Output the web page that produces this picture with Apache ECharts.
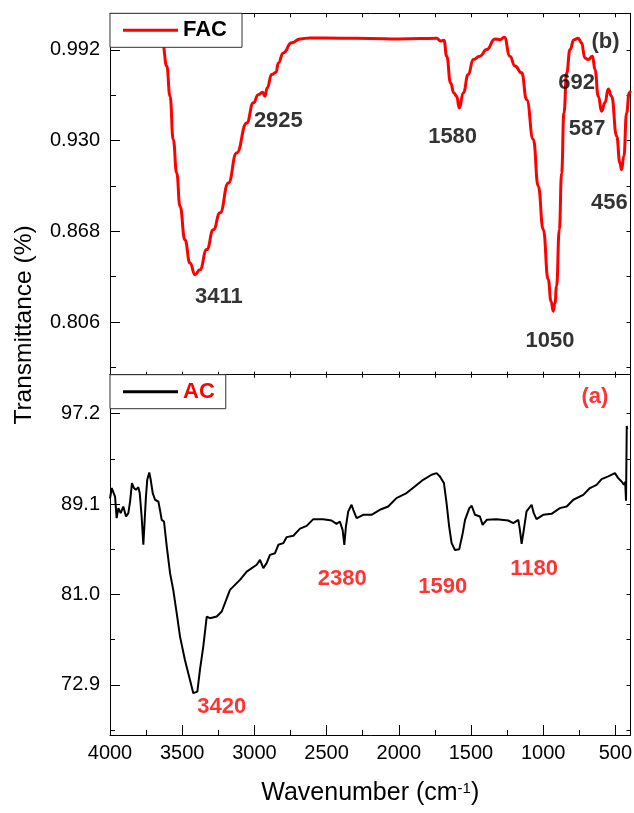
<!DOCTYPE html>
<html>
<head>
<meta charset="utf-8">
<title>FTIR spectra of AC and FAC</title>
<script src="https://cdn.jsdelivr.net/npm/echarts@6/dist/echarts.min.js"></script>
<style>
  html, body { margin: 0; padding: 0; background: #fff; }
  #chart { width: 634px; height: 813px; }
</style>
</head>
<body>
<div id="chart"></div>
<script>
// ---- FAC spectrum (panel b): wavenumber (cm-1) and transmittance ----
const facWavenumber = [4000, 3900, 3800, 3700, 3660, 3635, 3607, 3584, 3562, 3538, 3515, 3481, 3446, 3411, 3377, 3330, 3284, 3238, 3180, 3123, 3053, 3007, 2973, 2943, 2927, 2911, 2881, 2850, 2834, 2800, 2742, 2684, 2615, 2400, 2200, 2000, 1850, 1738, 1710, 1687, 1668, 1641, 1618, 1599, 1581, 1553, 1519, 1484, 1438, 1391, 1334, 1299, 1269, 1230, 1195, 1149, 1114, 1068, 1034, 999, 965, 945, 930, 918, 907, 888, 872, 856, 837, 814, 787, 757, 734, 711, 688, 658, 641, 618, 595, 572, 549, 526, 491, 468, 457, 441, 422, 404, 395];
const facTransmittance = [1.002, 1.003, 1.002, 1.001, 0.999, 0.9956, 0.9809, 0.9603, 0.9307, 0.9079, 0.8851, 0.8622, 0.8463, 0.8383, 0.8418, 0.8555, 0.8691, 0.8806, 0.9011, 0.9216, 0.9421, 0.9558, 0.9614, 0.9631, 0.9603, 0.9660, 0.9751, 0.9767, 0.9831, 0.9899, 0.9968, 0.9995, 1.0002, 1.0000, 0.9998, 0.9995, 0.9997, 1.0000, 0.9980, 0.9986, 0.9877, 0.9694, 0.9626, 0.9603, 0.9523, 0.9626, 0.9751, 0.9854, 0.9877, 0.9922, 0.9995, 0.9990, 1.0007, 0.9877, 0.9809, 0.9763, 0.9580, 0.9307, 0.8988, 0.8691, 0.8350, 0.8200, 0.8134, 0.8190, 0.8305, 0.8691, 0.9079, 0.9489, 0.9763, 0.9922, 0.9990, 1.0000, 0.9968, 0.9865, 0.9854, 0.9877, 0.9785, 0.9603, 0.9501, 0.9558, 0.9653, 0.9603, 0.9330, 0.9147, 0.9101, 0.9193, 0.9489, 0.9626, 0.9640];

// ---- AC spectrum (panel a): wavenumber (cm-1) and transmittance (%) ----
const acWavenumber = [4000, 3988, 3977, 3965, 3954, 3942, 3926, 3908, 3889, 3873, 3861, 3848, 3834, 3820, 3804, 3794, 3781, 3769, 3758, 3751, 3742, 3728, 3718, 3704, 3688, 3665, 3654, 3642, 3626, 3607, 3584, 3562, 3538, 3515, 3481, 3446, 3423, 3395, 3377, 3354, 3330, 3307, 3261, 3226, 3169, 3100, 3053, 2984, 2961, 2938, 2915, 2892, 2857, 2834, 2800, 2776, 2730, 2684, 2638, 2592, 2523, 2466, 2431, 2408, 2389, 2377, 2366, 2350, 2327, 2315, 2292, 2246, 2189, 2131, 2073, 2016, 1946, 1889, 1831, 1773, 1738, 1715, 1687, 1669, 1651, 1634, 1611, 1581, 1557, 1541, 1511, 1495, 1472, 1438, 1419, 1391, 1322, 1242, 1207, 1172, 1161, 1149, 1134, 1115, 1080, 1065, 1046, 1000, 942, 884, 837, 791, 722, 676, 630, 595, 549, 503, 480, 457, 441, 432, 426, 421, 417];
const acTransmittance = [89.6, 90.54, 90.68, 89.78, 87.84, 88.74, 88.29, 88.88, 87.99, 88.29, 89.33, 90.98, 90.54, 90.38, 90.62, 90.09, 87.99, 85.45, 85.45, 89.78, 91.28, 91.93, 91.28, 90.09, 89.49, 89.33, 88.59, 87.69, 87.54, 85.30, 82.91, 81.41, 79.32, 77.22, 75.13, 73.34, 72.15, 72.29, 74.24, 76.33, 79.02, 78.87, 79.02, 79.47, 81.41, 82.31, 83.05, 83.66, 84.10, 83.36, 83.81, 84.55, 84.70, 85.45, 85.60, 86.14, 86.26, 86.90, 87.15, 87.75, 87.75, 87.63, 87.33, 87.54, 86.79, 85.45, 87.09, 88.44, 89.04, 88.59, 87.84, 88.14, 88.14, 88.59, 88.88, 89.64, 90.09, 90.68, 91.28, 91.73, 91.88, 91.58, 90.98, 89.19, 87.09, 85.60, 84.99, 85.06, 86.50, 87.69, 88.74, 88.95, 88.14, 87.99, 87.24, 87.69, 87.75, 87.63, 87.40, 87.69, 86.79, 85.54, 86.79, 88.44, 89.04, 88.29, 87.75, 88.14, 88.23, 88.74, 88.88, 89.49, 89.93, 90.54, 90.83, 91.34, 91.58, 91.88, 91.43, 91.13, 90.83, 91.10, 89.40, 96.10, 95.80];

// ---- peak annotations: [text, wavenumber anchor, transmittance anchor] ----
const facPeakLabels = [
  ['3411', 3246, 0.8231],
  ['2925', 2834, 0.9432],
  ['1580', 1627, 0.9326],
  ['1050', 953, 0.7933],
  ['692', 768, 0.9694],
  ['587', 696, 0.9378],
  ['456', 541, 0.8876],
  ['(b)', 568, 0.9977]
];
const acPeakLabels = [
  ['3420', 3226, 70.90],
  ['2380', 2392, 82.35],
  ['1590', 1696, 81.66],
  ['1180', 1062, 83.32],
  ['(a)', 641, 98.75]
];

// ---- axis ticks ----
const wavenumberLabels = [4000, 3500, 3000, 2500, 2000, 1500, 1000, 500];
const wavenumberAllTicks = [3750, 3500, 3250, 3000, 2750, 2500, 2250, 2000, 1750, 1500, 1250, 1000, 750, 500];
const facTickLabels = [0.806, 0.868, 0.930, 0.992];
const facAllTicks = [0.775, 0.806, 0.837, 0.868, 0.899, 0.930, 0.961, 0.992];
const acTickLabels = [72.9, 81.0, 89.1, 97.2];
const acAllTicks = [68.85, 72.9, 76.95, 81.0, 85.05, 89.1, 93.15, 97.2];

const X_MIN = 395, X_MAX = 4000;
const FAC_MIN = 0.770, FAC_MAX = 1.017;
const AC_MIN = 68.4, AC_MAX = 100.7;

const FONT = '"Liberation Sans", Arial, Helvetica, sans-serif';
const zip = (xs, ys) => xs.map((x, i) => [x, ys[i]]);

const chart = echarts.init(document.getElementById('chart'), null, { renderer: 'canvas' });

const GRID_LEFT = 110, GRID_RIGHT = 3.5;
const grids = [
  { left: GRID_LEFT, right: GRID_RIGHT, top: 13.3, height: 361.4, containLabel: false, outerBoundsMode: 'none' },
  { left: GRID_LEFT, right: GRID_RIGHT, top: 374.7, height: 360.3, containLabel: false, outerBoundsMode: 'none' }
];

function xAxis(gridIndex, position, ticks, tickLen, opts) {
  return Object.assign({
    type: 'value', gridIndex, position, min: X_MIN, max: X_MAX, inverse: true,
    splitLine: { show: false },
    axisLine: { show: true, onZero: false, lineStyle: { color: '#000', width: 1 } },
    axisTick: { show: true, inside: true, length: tickLen, customValues: ticks, lineStyle: { color: '#000', width: 1 } },
    axisLabel: { show: false }
  }, opts || {});
}
function yAxis(gridIndex, position, min, max, ticks, tickLen, opts) {
  return Object.assign({
    type: 'value', gridIndex, position, min, max,
    splitLine: { show: false },
    axisLine: { show: true, onZero: false, lineStyle: { color: '#000', width: 1 } },
    axisTick: { show: true, inside: true, length: tickLen, customValues: ticks, lineStyle: { color: '#000', width: 1 } },
    axisLabel: { show: false }
  }, opts || {});
}

const xAxes = [
  // panel b
  xAxis(0, 'bottom', wavenumberAllTicks, 3),
  xAxis(0, 'top', wavenumberAllTicks, 4),
  // panel a
  xAxis(1, 'bottom', wavenumberLabels, 10, {
    axisLabel: { show: true, customValues: wavenumberLabels, margin: 8, fontSize: 20, fontFamily: FONT, color: '#000',
      formatter: v => String(v) },
    name: 'Wavenumber (cm{sup|-1})',
    nameLocation: 'middle',
    nameGap: 46,
    nameTextStyle: {
      fontSize: 25, fontFamily: FONT, color: '#000',
      rich: { sup: { fontSize: 15, fontFamily: FONT, color: '#000', verticalAlign: 'top', lineHeight: 15 } }
    }
  }),
  xAxis(1, 'bottom', wavenumberAllTicks, 5, { axisLine: { show: false } }),
  xAxis(1, 'top', wavenumberAllTicks, 3)
];

const yAxes = [
  // panel b
  yAxis(0, 'left', FAC_MIN, FAC_MAX, facTickLabels, 10, {
    axisLabel: { show: true, customValues: facTickLabels, margin: 10, fontSize: 20, fontFamily: FONT, color: '#000',
      formatter: v => Number(v).toFixed(3) }
  }),
  yAxis(0, 'left', FAC_MIN, FAC_MAX, facAllTicks, 6, { axisLine: { show: false } }),
  yAxis(0, 'right', FAC_MIN, FAC_MAX, facAllTicks, 4),
  // panel a
  yAxis(1, 'left', AC_MIN, AC_MAX, acTickLabels, 10, {
    axisLabel: { show: true, customValues: acTickLabels, margin: 10, fontSize: 20, fontFamily: FONT, color: '#000',
      formatter: v => Number(v).toFixed(1) }
  }),
  yAxis(1, 'left', AC_MIN, AC_MAX, acAllTicks, 5, { axisLine: { show: false } }),
  yAxis(1, 'right', AC_MIN, AC_MAX, acAllTicks, 4)
];

function peakSeries(labels, xIdx, yIdx, color) {
  return {
    type: 'scatter', xAxisIndex: xIdx, yAxisIndex: yIdx, silent: true,
    symbolSize: 0, clip: false, z: 5,
    data: labels.map(([text, x, y]) => ({ name: text, value: [x, y] })),
    label: { show: true, position: 'inside', formatter: '{b}', fontSize: 22, fontWeight: 'bold', fontFamily: FONT, color }
  };
}

function legendBox(name, top, textColor, padRight) {
  return {
    data: [name], left: GRID_LEFT, top, orient: 'horizontal', selectedMode: false,
    backgroundColor: '#fff', borderColor: '#333', borderWidth: 1, borderRadius: 0,
    padding: [6, padRight, 6, 13],
    icon: 'rect', itemWidth: 55, itemHeight: 3,
    textStyle: { fontSize: 22, fontWeight: 'bold', fontFamily: FONT, color: textColor }
  };
}

const option = {
  animation: false,
  backgroundColor: '#fff',
  grid: grids,
  xAxis: xAxes,
  yAxis: yAxes,
  legend: [
    legendBox('FAC', 13.3, '#000', 15),
    legendBox('AC', 374.7, '#ff0000', 11)
  ],
  graphic: [{
    type: 'text', x: 24, y: 325, rotation: Math.PI / 2,
    style: { text: 'Transmittance (%)', fontSize: 24.5, fontFamily: FONT, fill: '#000', align: 'center', verticalAlign: 'middle' }
  }],
  series: [
    {
      name: 'FAC', type: 'line', xAxisIndex: 0, yAxisIndex: 0,
      data: zip(facWavenumber, facTransmittance),
      showSymbol: false, smooth: 0.5, smoothMonotone: 'x',
      lineStyle: { color: '#ff0000', width: 3 }, itemStyle: { color: '#ff0000' }
    },
    {
      name: 'AC', type: 'line', xAxisIndex: 2, yAxisIndex: 3,
      data: zip(acWavenumber, acTransmittance),
      showSymbol: false,
      lineStyle: { color: '#000', width: 2 }, itemStyle: { color: '#000' }
    },
    peakSeries(facPeakLabels, 0, 0, '#000'),
    peakSeries(acPeakLabels, 2, 3, '#ff0000')
  ]
};

chart.setOption(option);
</script>
</body>
</html>
